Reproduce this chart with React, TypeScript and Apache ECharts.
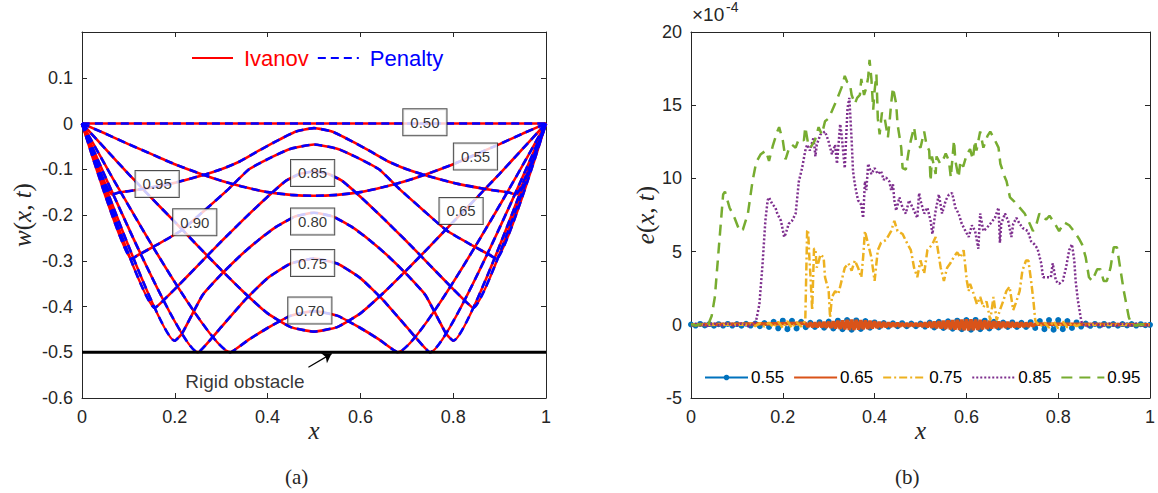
import React, { useEffect, useRef } from "react";
import * as echarts from "echarts";

const FONT = "'Liberation Sans', Arial, Helvetica, sans-serif";
const SERIF = "'Liberation Serif', 'Times New Roman', serif";
const AX = "#262626";

// ---------- panel (a): w(x,t) for several times ----------
const times = ["0.50", "0.55", "0.65", "0.70", "0.75", "0.80", "0.85", "0.90", "0.95"];

const w050 = [[0, 0], [1, 0]];
const w055 = [[0, 0], [0.05, -0.022], [0.1, -0.045], [0.15, -0.067], [0.2, -0.089], [0.25, -0.108], [0.3, -0.125], [0.35, -0.139], [0.4, -0.15], [0.45, -0.156], [0.5, -0.158], [0.55, -0.156], [0.6, -0.15], [0.65, -0.139], [0.7, -0.125], [0.75, -0.108], [0.8, -0.089], [0.85, -0.067], [0.9, -0.045], [0.95, -0.022], [1, 0]];
const w065 = [[0, 0], [0.05, -0.055], [0.1, -0.11], [0.15, -0.163], [0.2, -0.215], [0.25, -0.268], [0.3, -0.32], [0.35, -0.37], [0.4, -0.415], [0.45, -0.445], [0.5, -0.455], [0.55, -0.445], [0.6, -0.415], [0.65, -0.37], [0.7, -0.32], [0.75, -0.268], [0.8, -0.215], [0.85, -0.163], [0.9, -0.11], [0.95, -0.055], [1, 0]];
const w070 = [[0, 0], [0.32, -0.5], [0.36, -0.472], [0.4, -0.447], [0.45, -0.42], [0.5, -0.41], [0.55, -0.42], [0.6, -0.447], [0.64, -0.472], [0.68, -0.5], [1, 0]];
const w075 = [[0, 0], [0.25, -0.5], [0.3, -0.445], [0.35, -0.387], [0.4, -0.338], [0.45, -0.306], [0.5, -0.295], [0.55, -0.306], [0.6, -0.338], [0.65, -0.387], [0.7, -0.445], [0.75, -0.5], [1, 0]];
const w080 = [[0, 0], [0.2, -0.475], [0.215, -0.46], [0.26, -0.375], [0.3, -0.33], [0.34, -0.29], [0.38, -0.255], [0.42, -0.225], [0.46, -0.203], [0.5, -0.195], [0.54, -0.203], [0.58, -0.225], [0.62, -0.255], [0.66, -0.29], [0.7, -0.33], [0.74, -0.375], [0.785, -0.46], [0.8, -0.475], [1, 0]];
const w085 = [[0, 0], [0.157, -0.403], [0.17, -0.392], [0.2, -0.362], [0.25, -0.31], [0.3, -0.258], [0.35, -0.208], [0.4, -0.16], [0.44, -0.125], [0.47, -0.11], [0.5, -0.105], [0.53, -0.11], [0.56, -0.125], [0.6, -0.16], [0.65, -0.208], [0.7, -0.258], [0.75, -0.31], [0.8, -0.362], [0.83, -0.392], [0.843, -0.403], [1, 0]];
const w090 = [[0, 0], [0.107, -0.296], [0.12, -0.288], [0.16, -0.266], [0.214, -0.234], [0.264, -0.19], [0.315, -0.144], [0.36, -0.1], [0.41, -0.073], [0.45, -0.055], [0.5, -0.046], [0.55, -0.055], [0.59, -0.073], [0.64, -0.1], [0.685, -0.144], [0.736, -0.19], [0.786, -0.234], [0.84, -0.266], [0.88, -0.288], [0.893, -0.296], [1, 0]];
const w095 = [[0, 0], [0.065, -0.155], [0.08, -0.151], [0.12, -0.145], [0.19, -0.132], [0.26, -0.113], [0.3, -0.1], [0.34, -0.083], [0.38, -0.06], [0.42, -0.038], [0.46, -0.018], [0.5, -0.01], [0.54, -0.018], [0.58, -0.038], [0.62, -0.06], [0.66, -0.083], [0.7, -0.1], [0.74, -0.113], [0.81, -0.132], [0.88, -0.145], [0.92, -0.151], [0.935, -0.155], [1, 0]];
const curves = [w050, w055, w065, w070, w075, w080, w085, w090, w095];

// label boxes: [x, y, text]
const labelBoxes: [number, number, string][] = [
  [0.739, 0.003, "0.50"], [0.848, -0.072, "0.55"], [0.817, -0.191, "0.65"],
  [0.491, -0.409, "0.70"], [0.497, -0.305, "0.75"], [0.497, -0.214, "0.80"],
  [0.497, -0.108, "0.85"], [0.243, -0.216, "0.90"], [0.162, -0.132, "0.95"],
];
const obstacle = [[0, -0.5], [1, -0.5]];
const arrowFrom = [0.488, -0.533];
const arrowTo = [0.538, -0.503];
const obstacleText: [number, number, string] = [0.351, -0.563, "Rigid obstacle"];

// ---------- panel (b): e(x,t) x 1e-4 ----------
const eNames = ["0.55", "0.65", "0.75", "0.85", "0.95"];
const eColors = ["#0072BD", "#D95319", "#EDB120", "#7E2F8E", "#77AC30"];

// 0.55, sampled every 0.01 on [0,1]
const e055Step = 0.01;
const e055 = [0.02, -0.05, 0.06, -0.04, 0.05, -0.06, 0.04, -0.05, 0.06, -0.05,
  0.05, -0.06, 0.07, -0.05, 0.08, -0.1, 0.12, -0.15, 0.2, -0.24,
  0.28, -0.3, 0.27, -0.25, 0.2, -0.16, 0.14, -0.15, 0.18, -0.2,
  0.22, -0.25, 0.28, -0.3, 0.32, -0.33, 0.3, -0.28, 0.25, -0.2,
  0.16, -0.14, 0.12, -0.12, 0.1, -0.1, 0.11, -0.1, 0.09, -0.1,
  0.08, -0.12, 0.15, -0.18, 0.2, -0.22, 0.24, -0.26, 0.28, -0.3,
  0.32, -0.33, 0.33, -0.3, 0.28, -0.25, 0.2, -0.18, 0.15, -0.14,
  0.16, -0.15, 0.14, -0.15, 0.18, -0.22, 0.26, -0.3, 0.32, -0.33,
  0.32, -0.3, 0.26, -0.22, 0.16, -0.12, 0.08, -0.07, 0.06, -0.05,
  0.06, -0.05, 0.05, -0.06, 0.05, -0.04, 0.05, -0.05, 0.04, -0.03, 0];

// 0.65, sampled every 0.005 on [0.25,0.75]
const e065Start = 0.25;
const e065Step = 0.005;
const e065 = [0.1, -0.14, 0.15, -0.16, 0.15, -0.17, 0.18, -0.17, 0.19, -0.2,
  0.21, -0.22, 0.24, -0.25, 0.27, -0.28, 0.3, -0.31, 0.33, -0.34,
  0.35, -0.35, 0.34, -0.33, 0.32, -0.3, 0.29, -0.28, 0.27, -0.25,
  0.24, -0.22, 0.2, -0.19, 0.17, -0.16, 0.15, -0.14, 0.13, -0.12,
  0.12, -0.11, 0.1, -0.1, 0.09, -0.1, 0.1, -0.09, 0.1, -0.1,
  0.11, -0.13, 0.15, -0.17, 0.19, -0.2, 0.22, -0.23, 0.24, -0.25,
  0.27, -0.28, 0.29, -0.3, 0.31, -0.32, 0.33, -0.34, 0.35, -0.36,
  0.37, -0.38, 0.37, -0.36, 0.35, -0.34, 0.33, -0.31, 0.3, -0.28,
  0.27, -0.25, 0.24, -0.23, 0.22, -0.21, 0.2, -0.2, 0.19, -0.18,
  0.18, -0.17, 0.16, -0.16, 0.15, -0.14, 0.14, -0.13, 0.12, -0.1, 0.05];

const e075 = [[0, 0], [0.12, 0], [0.13, 0.1], [0.14, -0.1], [0.15, 0.12], [0.16, -0.12], [0.17, 0.15], [0.18, -0.18], [0.19, 0.2], [0.2, -0.22], [0.21, 0.25], [0.22, -0.22], [0.23, 0.18], [0.24, -0.12], [0.245, 0.1],
  [0.249, 0.3], [0.253, 6.4], [0.255, 6.5], [0.258, 4.5], [0.26, 3.5], [0.264, 1.0], [0.268, 5.2], [0.271, 5.2], [0.274, 3.9], [0.278, 4.3], [0.282, 4.8], [0.289, 4.6], [0.292, 3.25], [0.3, 2.3], [0.303, 0.5], [0.307, 1.9], [0.314, 2.3], [0.321, 2.1], [0.328, 3.0], [0.335, 3.9], [0.343, 4.2], [0.35, 3.7], [0.357, 4.4], [0.364, 3.9], [0.371, 3.25], [0.375, 4.6], [0.379, 6.4], [0.386, 5.5], [0.393, 4.6], [0.4, 3.0], [0.407, 5.1], [0.414, 5.6], [0.425, 5.8], [0.436, 6.4], [0.443, 7.1], [0.45, 6.4], [0.461, 6.2], [0.472, 5.5], [0.479, 5.1], [0.486, 3.9], [0.493, 3.25], [0.5, 4.4], [0.508, 3.5], [0.515, 5.1], [0.526, 5.5], [0.533, 6.0], [0.537, 5.3], [0.544, 3.9], [0.551, 3.0], [0.558, 3.9], [0.565, 4.2], [0.572, 4.6], [0.58, 4.95], [0.587, 4.6], [0.594, 5.1], [0.598, 3.9], [0.601, 3.0], [0.605, 2.3], [0.608, 2.8], [0.616, 2.1], [0.623, 1.4], [0.63, 1.9], [0.637, 1.2], [0.644, 1.6], [0.652, 0.3], [0.659, 1.9], [0.666, 0.3], [0.673, 1.0], [0.68, 1.6], [0.687, 2.3], [0.694, 2.6], [0.702, 1.0], [0.709, 1.6], [0.716, 2.3], [0.722, 3.7], [0.73, 4.4], [0.735, 4.4], [0.741, 3.0], [0.746, 1.65], [0.75, 0.3],
  [0.76, -0.12], [0.77, 0.15], [0.78, -0.2], [0.79, 0.25], [0.8, -0.25], [0.81, 0.22], [0.82, -0.18], [0.83, 0.12], [0.84, -0.1], [0.85, 0.08], [0.86, 0], [1, 0]];

const e085 = [[0, 0], [0.02, 0.08], [0.035, -0.08], [0.05, 0.1], [0.065, -0.1], [0.08, 0.1], [0.095, -0.1], [0.11, 0.1], [0.125, -0.1], [0.138, 0.1],
  [0.142, 0.3], [0.149, 1.4], [0.156, 4.2], [0.162, 7.1], [0.167, 8.5], [0.17, 8.7], [0.177, 8.25], [0.184, 8.0], [0.188, 7.6], [0.196, 7.1], [0.203, 6.0], [0.206, 6.2], [0.213, 6.9], [0.22, 7.1], [0.228, 7.6], [0.235, 9.8], [0.242, 10.7], [0.249, 11.9], [0.253, 12.3], [0.259, 11.9], [0.267, 12.8], [0.271, 11.5], [0.274, 12.3], [0.282, 13.0], [0.292, 13.2], [0.299, 12.6], [0.307, 11.65], [0.314, 12.3], [0.318, 11.0], [0.325, 13.7], [0.328, 13.0], [0.335, 10.7], [0.341, 14.8], [0.345, 15.5], [0.35, 12.6], [0.353, 10.5], [0.357, 9.6], [0.36, 9.1], [0.364, 8.5], [0.371, 8.2], [0.375, 7.3], [0.379, 9.8], [0.382, 9.2], [0.386, 11.0], [0.393, 10.3], [0.4, 10.7], [0.407, 10.3], [0.414, 10.5], [0.42, 9.9], [0.425, 10.06], [0.432, 9.8], [0.436, 9.2], [0.44, 9.6], [0.443, 8.5], [0.447, 7.8], [0.454, 8.7], [0.461, 8.0], [0.468, 7.6], [0.475, 8.5], [0.486, 7.8], [0.493, 7.3], [0.497, 9.0], [0.5, 8.5], [0.508, 7.6], [0.515, 8.0], [0.522, 7.1], [0.526, 6.2], [0.533, 7.8], [0.54, 8.9], [0.547, 7.6], [0.555, 8.5], [0.562, 8.9], [0.569, 9.0], [0.576, 8.0], [0.583, 7.6], [0.59, 6.9], [0.598, 6.4], [0.605, 6.0], [0.612, 6.8], [0.619, 6.4], [0.626, 5.2], [0.63, 7.6], [0.637, 6.4], [0.644, 6.6], [0.652, 6.9], [0.662, 7.3], [0.67, 8.0], [0.673, 5.6], [0.676, 6.9], [0.684, 7.6], [0.691, 7.1], [0.698, 6.0], [0.702, 6.9], [0.709, 7.3], [0.716, 6.9], [0.723, 6.6], [0.734, 6.4], [0.741, 5.7], [0.748, 5.5], [0.755, 5.2], [0.763, 4.2], [0.767, 3.25], [0.777, 3.25], [0.784, 3.25], [0.788, 4.2], [0.795, 3.0], [0.802, 2.8], [0.81, 3.0], [0.817, 3.9], [0.824, 5.1], [0.83, 5.5], [0.835, 4.4], [0.838, 3.0], [0.843, 1.65], [0.849, 0.5], [0.852, 0.05],
  [0.865, -0.1], [0.88, 0.1], [0.895, -0.1], [0.91, 0.1], [0.925, -0.1], [0.94, 0.1], [0.955, -0.08], [0.97, 0.08], [0.985, -0.05], [1, 0]];

const e095 = [[0, 0.05], [0.01, -0.05], [0.02, 0.05], [0.03, -0.05], [0.038, 0.05], [0.045, 0.6], [0.052, 1.9], [0.0625, 6.0], [0.07, 8.9], [0.074, 9.1], [0.084, 8.0], [0.095, 7.3], [0.106, 6.4], [0.113, 6.5], [0.124, 7.6], [0.134, 9.8], [0.142, 11.1], [0.152, 11.65], [0.163, 11.9], [0.17, 11.2], [0.178, 12.2], [0.188, 13.2], [0.192, 13.5], [0.2, 12.6], [0.206, 11.3], [0.213, 12.0], [0.22, 12.3], [0.228, 12.1], [0.235, 12.7], [0.246, 12.6], [0.249, 13.5], [0.255, 12.4], [0.26, 12.1], [0.27, 12.6], [0.278, 13.5], [0.285, 13.0], [0.292, 13.9], [0.3, 14.1], [0.307, 14.6], [0.318, 15.4], [0.328, 16.2], [0.335, 17.0], [0.34, 16.6], [0.346, 16.5], [0.35, 15.7], [0.357, 15.1], [0.362, 15.5], [0.368, 15.7], [0.371, 16.8], [0.377, 15.7], [0.382, 16.2], [0.386, 16.9], [0.389, 18.1], [0.393, 16.8], [0.397, 14.7], [0.4, 16.0], [0.404, 17.1], [0.407, 14.1], [0.411, 13.0], [0.416, 14.5], [0.422, 14.1], [0.429, 12.8], [0.433, 14.0], [0.436, 15.1], [0.44, 16.2], [0.447, 15.1], [0.45, 13.7], [0.458, 12.1], [0.461, 10.7], [0.468, 10.6], [0.474, 11.8], [0.479, 12.6], [0.486, 13.5], [0.49, 12.6], [0.495, 12.3], [0.5, 12.1], [0.508, 13.2], [0.513, 12.3], [0.519, 11.9], [0.522, 9.8], [0.525, 11.5], [0.533, 10.3], [0.535, 11.5], [0.543, 11.0], [0.551, 11.4], [0.555, 11.7], [0.562, 11.2], [0.566, 10.06], [0.573, 12.6], [0.576, 11.2], [0.583, 10.06], [0.587, 11.2], [0.593, 10.8], [0.601, 11.65], [0.608, 12.0], [0.614, 11.3], [0.619, 12.6], [0.622, 11.9], [0.63, 13.2], [0.637, 12.1], [0.646, 12.9], [0.652, 13.2], [0.659, 12.8], [0.67, 12.1], [0.674, 11.0], [0.684, 10.06], [0.6875, 9.8], [0.695, 8.7], [0.705, 8.4], [0.716, 8.0], [0.727, 7.6], [0.738, 6.9], [0.745, 6.4], [0.752, 6.8], [0.759, 7.6], [0.766, 7.3], [0.774, 7.2], [0.781, 7.45], [0.791, 7.0], [0.802, 6.4], [0.813, 7.0], [0.824, 6.8], [0.834, 6.4], [0.845, 5.9], [0.852, 5.5], [0.86, 4.6], [0.867, 3.25], [0.874, 3.0], [0.885, 3.8], [0.892, 3.8], [0.899, 3.0], [0.906, 3.0], [0.914, 3.9], [0.921, 5.3], [0.928, 5.3], [0.935, 3.9], [0.943, 2.3], [0.954, 0.5], [0.96, 0.05], [0.97, -0.05], [0.98, 0.05], [0.99, -0.05], [1, 0]];

const xTicks = [0, 0.2, 0.4, 0.6, 0.8, 1];

function buildOption() {
  const frameLine = { show: true, onZero: false, lineStyle: { color: AX, width: 1 } };
  const tick = { show: true, inside: true, length: 5, lineStyle: { color: AX } };
  const tickLabel = { color: AX, fontSize: 18, fontFamily: FONT };
  const noSym = { opacity: 0 };

  const mkX = (grid: number, bottom: boolean) => ({
    type: "value", gridIndex: grid, min: xTicks[0], max: xTicks[xTicks.length - 1], interval: 0.2,
    position: bottom ? "bottom" : "top",
    axisLine: frameLine, axisTick: tick,
    axisLabel: bottom ? { ...tickLabel, margin: 10 } : { show: false },
    splitLine: { show: false },
    name: bottom ? "x" : "",
    nameLocation: "middle", nameGap: 20, nameMoveOverlap: false,
    nameTextStyle: { fontFamily: SERIF, fontStyle: "italic", fontSize: 25, color: AX },
  });

  const redSeries = curves.map((c, i) => ({
    type: "line", name: "Ivanov", id: "iv" + times[i], xAxisIndex: 0, yAxisIndex: 0,
    data: c, symbol: "none", smooth: 0.15, z: 2,
    itemStyle: { color: "#ff0000" },
    lineStyle: { color: "#ff0000", width: 2.6 },
  }));
  const blueSeries = curves.map((c, i) => ({
    type: "line", name: "Penalty", id: "pe" + times[i], xAxisIndex: 0, yAxisIndex: 0,
    data: c, symbol: "none", smooth: 0.15, z: 3,
    itemStyle: { color: "#0000ff" },
    lineStyle: { color: "#0000ff", width: 2.6, type: [8, 5] },
  }));

  const e055Data = e055.map((v, i) => [i * e055Step, v]);
  const e065Data = [[0, 0], ...e065.map((v, i) => [e065Start + i * e065Step, v]), [1, 0]];

  return {
    animation: false,
    backgroundColor: "#ffffff",
    grid: [
      { left: 82, top: 32, width: 464, height: 366 },
      { left: 691, top: 32, width: 464, height: 366 },
    ],
    legend: [
      {
        data: [
          { name: "Ivanov", textStyle: { color: "#ff0000" }, itemStyle: noSym },
          { name: "Penalty", textStyle: { color: "#0000ff" }, itemStyle: noSym },
        ],
        left: 186, top: 42, itemWidth: 41, itemHeight: 14, itemGap: 8,
        textStyle: { fontSize: 22, fontFamily: FONT, padding: [0, 0, 0, 6] },
      },
      {
        data: [
          { name: eNames[0] },
          { name: eNames[1], itemStyle: noSym },
          { name: eNames[2], itemStyle: noSym },
          { name: eNames[3], itemStyle: noSym },
          { name: eNames[4], itemStyle: noSym },
        ],
        left: 699, top: 364, width: 459, itemWidth: 43, itemHeight: 7, itemGap: 9,
        textStyle: { fontSize: 17, fontFamily: FONT, color: "#000", padding: [0, 0, 0, -2] },
      },
    ],
    xAxis: [mkX(0, true), mkX(0, false), mkX(1, true), mkX(1, false)],
    yAxis: [
      {
        type: "value", gridIndex: 0, min: -0.6, max: 0.2, interval: 0.1, position: "left",
        axisLine: frameLine, axisTick: tick, splitLine: { show: false },
        axisLabel: {
          ...tickLabel, margin: 9,
          formatter: (v: number) => (Math.abs(v - 0.2) < 1e-6 ? "" : String(Math.round(v * 10) / 10)),
        },
        name: "{i|w}{r|(}{i|x}{r|, }{i|t}{r|)}", nameLocation: "middle", nameGap: 47, nameRotate: 90,
        nameTextStyle: {
          color: AX,
          rich: {
            i: { fontFamily: SERIF, fontStyle: "italic", fontSize: 25, color: AX },
            r: { fontFamily: SERIF, fontSize: 25, color: AX },
          },
        },
      },
      {
        type: "value", gridIndex: 0, min: -0.6, max: 0.2, interval: 0.1, position: "right",
        axisLine: frameLine, axisTick: tick, splitLine: { show: false }, axisLabel: { show: false },
      },
      {
        type: "value", gridIndex: 1, min: -5, max: 20, interval: 5, position: "left",
        axisLine: frameLine, axisTick: tick, splitLine: { show: false },
        axisLabel: { ...tickLabel, margin: 9 },
        name: "{i|e}{r|(}{i|x}{r|, }{i|t}{r|)}", nameLocation: "middle", nameGap: 30, nameRotate: 90,
        nameTextStyle: {
          color: AX,
          rich: {
            i: { fontFamily: SERIF, fontStyle: "italic", fontSize: 25, color: AX },
            r: { fontFamily: SERIF, fontSize: 25, color: AX },
          },
        },
      },
      {
        type: "value", gridIndex: 1, min: -5, max: 20, interval: 5, position: "right",
        axisLine: frameLine, axisTick: tick, splitLine: { show: false }, axisLabel: { show: false },
      },
    ],
    graphic: [
      { type: "text", left: 285, top: 466, style: { text: "(a)", font: `21px ${SERIF}`, fill: AX } },
      { type: "text", left: 895, top: 466, style: { text: "(b)", font: `21px ${SERIF}`, fill: AX } },
      { type: "text", left: 692, top: 5, style: { text: "×10", font: `19px ${FONT}`, fill: AX } },
      { type: "text", left: 726, top: 0, style: { text: "-4", font: `14px ${FONT}`, fill: AX } },
    ],
    series: [
      ...redSeries,
      ...blueSeries,
      {
        type: "line", name: "obstacle", xAxisIndex: 0, yAxisIndex: 0, data: obstacle,
        symbol: "none", z: 4, lineStyle: { color: "#000", width: 3 },
        markLine: {
          silent: true, symbol: ["none", "arrow"], symbolSize: 9,
          label: { show: false },
          lineStyle: { color: "#000", width: 1.2, type: "solid" },
          data: [[{ coord: arrowFrom }, { coord: arrowTo }]],
        },
      },
      {
        type: "scatter", name: "boxes", xAxisIndex: 0, yAxisIndex: 0, z: 10, silent: true,
        symbolSize: 1, itemStyle: { color: "rgba(0,0,0,0)" },
        data: labelBoxes.map(([x, y, t]) => ({ value: [x, y], name: t })),
        label: {
          show: true, position: "inside", formatter: (p: any) => p.name,
          backgroundColor: "#ffffff", borderColor: "#222222", borderWidth: 1,
          padding: [6, 7, 5, 7], fontSize: 15, fontFamily: FONT, color: "#000",
        },
      },
      {
        type: "scatter", name: "obstacleText", xAxisIndex: 0, yAxisIndex: 0, z: 10, silent: true,
        symbolSize: 1, itemStyle: { color: "rgba(0,0,0,0)" },
        data: [{ value: [obstacleText[0], obstacleText[1]], name: obstacleText[2] }],
        label: { show: true, position: "inside", formatter: (p: any) => p.name, fontSize: 19, fontFamily: FONT, color: "#000" },
      },
      {
        type: "line", name: eNames[0], xAxisIndex: 2, yAxisIndex: 2, data: e055Data, z: 2,
        symbol: "circle", symbolSize: 6, showSymbol: true, showAllSymbol: true,
        itemStyle: { color: eColors[0] }, lineStyle: { color: eColors[0], width: 1.5 },
      },
      {
        type: "line", name: eNames[1], xAxisIndex: 2, yAxisIndex: 2, data: e065Data, z: 3,
        symbol: "none", itemStyle: { color: eColors[1] }, lineStyle: { color: eColors[1], width: 3.5 },
      },
      {
        type: "line", name: eNames[2], xAxisIndex: 2, yAxisIndex: 2, data: e075, z: 4,
        symbol: "none", itemStyle: { color: eColors[2] }, lineStyle: { color: eColors[2], width: 2.5, type: [8, 3, 2, 3] },
      },
      {
        type: "line", name: eNames[3], xAxisIndex: 2, yAxisIndex: 2, data: e085, z: 5,
        symbol: "none", itemStyle: { color: eColors[3] }, lineStyle: { color: eColors[3], width: 2.5, type: [2, 2] },
      },
      {
        type: "line", name: eNames[4], xAxisIndex: 2, yAxisIndex: 2, data: e095, z: 6,
        symbol: "none", itemStyle: { color: eColors[4] }, lineStyle: { color: eColors[4], width: 2.5, type: [11, 7] },
      },
    ],
  };
}

export default function App() {
  const ref = useRef<HTMLDivElement>(null);
  useEffect(() => {
    if (!ref.current) return;
    const chart = echarts.init(ref.current, undefined, { renderer: "svg" });
    chart.setOption(buildOption() as any);
    return () => chart.dispose();
  }, []);
  return (
    <div
      ref={ref}
      style={{ position: "absolute", left: 0, top: 0, width: 1158, height: 493, background: "#fff" }}
    />
  );
}
